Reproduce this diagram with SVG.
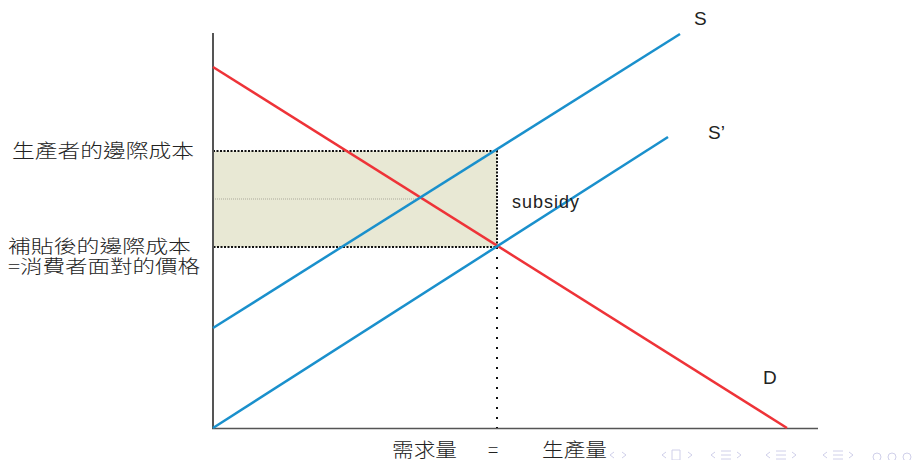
<svg xmlns="http://www.w3.org/2000/svg" width="917" height="460" viewBox="0 0 917 460">
<style>
.lbl{font-family:"Liberation Sans","Noto Sans CJK TC",sans-serif;fill:#222;}
.cjk{font-family:"Noto Sans CJK TC","Liberation Sans",sans-serif;fill:#222;font-size:19px;font-weight:300;}
.sm{font-size:18px;}
.red{stroke:#ee3338;stroke-width:2.5;fill:none;}
.blue{stroke:#1a90cc;stroke-width:2.5;fill:none;}
.nav{fill:none;stroke:#d0d0ea;stroke-width:1;}
</style>
<rect width="917" height="460" fill="#fff"/>
<g id="area">
<rect x="213" y="151" width="284" height="96" fill="#e8e8d4" stroke="#111" stroke-width="2" stroke-dasharray="2,1.5"/>
<line x1="213" y1="199" x2="419" y2="199" stroke="#aaa89a" stroke-width="1" stroke-dasharray="1,1"/>
</g>
<g id="axes">
<line x1="213" y1="33" x2="213" y2="429" stroke="#555" stroke-width="2"/>
<line x1="212" y1="428.5" x2="818" y2="428.5" stroke="#555" stroke-width="1.5"/>
</g>
<g id="connectors">
<line x1="497" y1="247" x2="497" y2="428" stroke="#111" stroke-width="2" stroke-dasharray="2,8"/>
<line id="D" class="red" x1="213" y1="67" x2="787" y2="428"/>
<line id="S" class="blue" x1="213" y1="328" x2="680" y2="34"/>
<line id="Sp" class="blue" x1="213" y1="428" x2="668" y2="137"/>
</g>
<g id="labels">
<text class="cjk" x="12" y="158" textLength="182" lengthAdjust="spacingAndGlyphs">生產者的邊際成本</text>
<text class="cjk sm" x="8" y="253" textLength="183" lengthAdjust="spacingAndGlyphs">補貼後的邊際成本</text>
<text class="cjk sm" x="8" y="273" textLength="192" lengthAdjust="spacingAndGlyphs">=消費者面對的價格</text>
<text class="lbl" x="512" y="208" font-size="18" letter-spacing="1">subsidy</text>
<text class="lbl" x="694" y="25" font-size="19">S</text>
<text class="lbl" x="708" y="139" font-size="19">S’</text>
<text class="lbl" x="763" y="384" font-size="19">D</text>
<text class="cjk" x="392" y="457" font-size="20" textLength="65" lengthAdjust="spacingAndGlyphs">需求量</text>
<text class="cjk" x="488" y="457" font-size="20">=</text>
<text class="cjk" x="542" y="457" font-size="20" textLength="65" lengthAdjust="spacingAndGlyphs">生產量</text>
</g>
<g id="nav">
<path class="nav" d="M614 452 l-4 3 l4 3 M622 452 l4 3 l-4 3"/>
<path class="nav" d="M666 452 l-4 3 l4 3 M672 450 h8 v10 h-8 z M688 452 l4 3 l-4 3"/>
<path class="nav" d="M715 452 l-4 3 l4 3 M721 451 h10 M721 455 h10 M721 459 h10 M737 452 l4 3 l-4 3"/>
<path class="nav" d="M770 452 l-4 3 l4 3 M776 451 h10 M776 455 h10 M776 459 h10 M792 452 l4 3 l-4 3"/>
<path class="nav" d="M827 452 l-4 3 l4 3 M833 451 h10 M833 455 h10 M833 459 h10 M849 452 l4 3 l-4 3"/>
<circle class="nav" cx="877" cy="457" r="4"/>
<circle class="nav" cx="892" cy="457" r="4"/>
<circle class="nav" cx="907" cy="457" r="4"/>
</g>
</svg>
